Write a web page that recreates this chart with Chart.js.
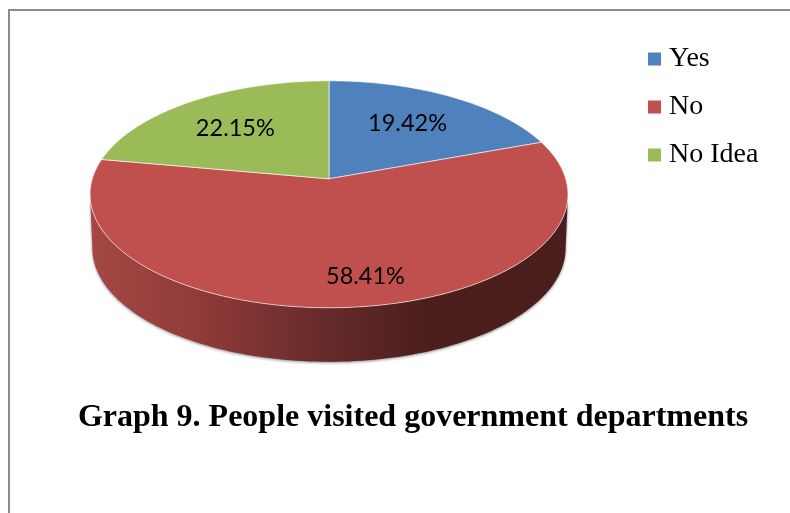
<!DOCTYPE html>
<html>
<head>
<meta charset="utf-8">
<title>Graph 9</title>
<script src="https://cdn.jsdelivr.net/npm/chart.js@4"></script>
<style>
  html, body { margin: 0; padding: 0; background: #fff; overflow: hidden; width: 790px; height: 513px; }
  #frame { position: absolute; left: 8px; top: 9px; width: 800px; height: 520px; border: 2px solid #8c8c8c; }
  #chart { position: absolute; left: 0; top: 0; }
</style>
</head>
<body>
<div id="frame"></div>
<canvas id="chart" width="790" height="513"></canvas>
<script>
const categories = ['Yes', 'No', 'No Idea'];
const shares = [19.42, 58.41, 22.15];
const sliceColors = ['#4f81bd', '#c0504d', '#9bbb59'];
const chartTitle = 'Graph 9. People visited government departments';

// tilted disc: the circle is pushed through a small perspective so the apex sits above the ellipse centre
const tilt = { p: 0.1366, sx: 0.9906, sy: 0.466, depth: 54, shrink: 0.99 };
const labelNudge = [[-2, -1], [21, 13], [-3, 1]];

function project(arc, angle, k = 1, dy = 0, sx = 1) {
    const u = Math.cos(angle), v = Math.sin(angle);
    const w = 1 - tilt.p * v;
    const r = arc.outerRadius * k;
    return {
        x: arc.x + sx * tilt.sx * r * u / w,
        y: arc.y + tilt.sy * r * v / w + dy
    };
}

function tracePoints(ctx, points) {
    points.forEach((pt, i) => i ? ctx.lineTo(pt.x, pt.y) : ctx.moveTo(pt.x, pt.y));
}

const tiltedPie = {
    id: 'tiltedPie',
    afterLayout(chart) {
        // legend and title sit at their own spots, not where the layout boxes would put them
        const legend = chart.legend, title = chart.titleBlock;
        legend.left = 634;
        legend.right = 790;
        legend.top = 25;
        legend.bottom = 300;
        title.left = 0;
        title.right = 826;
        title.top = 399;
    },
    beforeDatasetDraw(chart) {
        const ctx = chart.ctx;
        const arcs = chart.getDatasetMeta(0).data;
        const first = arcs[0];

        // side wall, only the front half shows
        const edge = Math.asin(tilt.p);
        const front = [], back = [];
        for (let i = 0; i <= 120; i++) {
            const a = edge + (Math.PI - 2 * edge) * i / 120;
            front.push(project(first, a));
            back.unshift(project(first, a, 1, tilt.depth, tilt.shrink));
        }
        const wall = ctx.createLinearGradient(first.x - 239, 0, first.x + 239, 0);
        wall.addColorStop(0, '#a54845');
        wall.addColorStop(0.25, '#8c3a38');
        wall.addColorStop(0.5, '#642a29');
        wall.addColorStop(0.7, '#4c1f1d');
        wall.addColorStop(1, '#4a1e1c');
        ctx.save();
        ctx.shadowColor = 'rgba(0,0,0,0.45)';
        ctx.shadowBlur = 3;
        ctx.shadowOffsetY = 1;
        ctx.beginPath();
        tracePoints(ctx, front.concat(back));
        ctx.closePath();
        ctx.fillStyle = wall;
        ctx.fill();
        ctx.restore();

        // top face, angles come from the pie controller
        arcs.forEach((arc, i) => {
            const steps = 90;
            const pts = [{ x: arc.x, y: arc.y }];
            for (let s = 0; s <= steps; s++) {
                pts.push(project(arc, arc.startAngle + (arc.endAngle - arc.startAngle) * s / steps));
            }
            ctx.beginPath();
            tracePoints(ctx, pts);
            ctx.closePath();
            ctx.fillStyle = sliceColors[i];
            ctx.fill();
            ctx.lineWidth = 0.8;
            ctx.strokeStyle = 'rgba(255,255,255,0.75)';
            ctx.stroke();
        });
        return false;
    },
    afterDatasetsDraw(chart) {
        const ctx = chart.ctx;
        ctx.save();
        ctx.font = '23.5px Lato';
        ctx.fillStyle = '#000';
        ctx.textAlign = 'center';
        ctx.textBaseline = 'middle';
        chart.getDatasetMeta(0).data.forEach((arc, i) => {
            const pos = project(arc, (arc.startAngle + arc.endAngle) / 2, 0.66);
            ctx.fillText(shares[i].toFixed(2) + '%', pos.x + labelNudge[i][0], pos.y + labelNudge[i][1]);
        });
        ctx.restore();
    }
};

new Chart(document.getElementById('chart'), {
    type: 'pie',
    data: {
        labels: categories,
        datasets: [{ data: shares, backgroundColor: sliceColors, borderWidth: 0 }]
    },
    options: {
        responsive: false,
        animation: false,
        radius: 239,
        layout: { padding: { left: 0, right: 132, top: 0, bottom: 117 } },
        plugins: {
            tooltip: { enabled: false },
            legend: {
                position: 'chartArea',
                align: 'start',
                labels: {
                    usePointStyle: true,
                    pointStyle: 'rect',
                    boxWidth: 1,
                    boxHeight: 13,
                    padding: 20,
                    color: '#000',
                    font: { family: '"Liberation Serif"', size: 28 }
                }
            },
            title: {
                display: true,
                text: chartTitle,
                position: 'bottom',
                color: '#000',
                padding: 0,
                font: { family: '"Liberation Serif"', size: 32, weight: 'bold', lineHeight: 1.2 }
            }
        }
    },
    plugins: [tiltedPie]
});
</script>
</body>
</html>
